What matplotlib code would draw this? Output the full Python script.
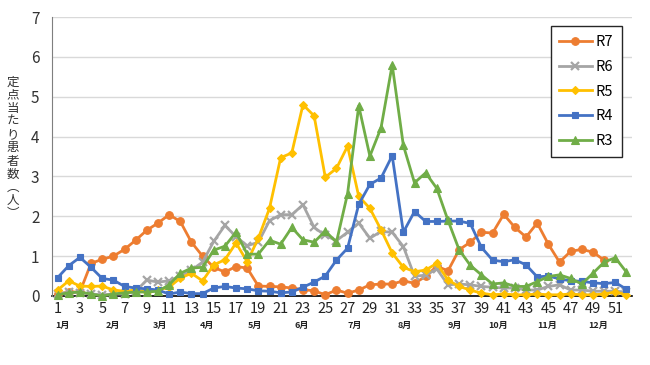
import matplotlib
matplotlib.use("Agg")
import matplotlib.pyplot as plt
import matplotlib.transforms as mtransforms

plt.rcParams['font.family'] = ['Noto Sans CJK JP', 'DejaVu Sans']

weeks = list(range(1, 53))

r7 = [0.05, 0.1, 0.1, 0.82, 0.92, 1.0, 1.17, 1.4, 1.65, 1.83,
      2.04, 1.87, 1.35, 1.0, 0.72, 0.6, 0.74, 0.7, 0.25, 0.24,
      0.23, 0.2, 0.16, 0.13, 0.03, 0.15, 0.07, 0.15, 0.28, 0.3,
      0.3, 0.38, 0.32, 0.49, 0.75, 0.63, 1.16, 1.35, 1.6, 1.58,
      2.05, 1.72, 1.48, 1.83, 1.3, 0.85, 1.12, 1.17, 1.1, 0.9]

r6 = [0.05, 0.1, 0.08, 0.05, 0.03, 0.05, 0.05, 0.12, 0.4, 0.35,
      0.38, 0.5, 0.65, 0.85, 1.37, 1.77, 1.49, 1.26, 1.35, 1.89,
      2.04, 2.04, 2.29, 1.72, 1.52, 1.39, 1.6, 1.83, 1.45, 1.62,
      1.6, 1.24, 0.5, 0.52, 0.68, 0.28, 0.3, 0.28, 0.24, 0.22,
      0.2, 0.2, 0.15, 0.15, 0.24, 0.28, 0.15, 0.15, 0.12, 0.12,
      0.12, 0.1]

r5 = [0.15, 0.38, 0.25, 0.24, 0.25, 0.15, 0.12, 0.15, 0.1, 0.15,
      0.22, 0.45, 0.57, 0.38, 0.78, 0.91, 1.33, 0.86, 1.45, 2.2,
      3.47, 3.59, 4.8, 4.52, 2.98, 3.2, 3.76, 2.5, 2.2, 1.66,
      1.08, 0.72, 0.61, 0.65, 0.82, 0.4, 0.24, 0.15, 0.07, 0.03,
      0.05, 0.03, 0.03, 0.05, 0.03, 0.03, 0.05, 0.03, 0.03, 0.05,
      0.1, 0.03]

r4 = [0.46, 0.76, 0.97, 0.72, 0.44, 0.4, 0.24, 0.2, 0.18, 0.15,
      0.05, 0.1, 0.06, 0.06, 0.2, 0.24, 0.2, 0.18, 0.13, 0.12,
      0.08, 0.1, 0.22, 0.35, 0.5, 0.9, 1.2, 2.3, 2.8, 2.96,
      3.52, 1.6, 2.12, 1.87, 1.87, 1.88, 1.88, 1.82, 1.22, 0.9,
      0.86, 0.91, 0.78, 0.48, 0.5, 0.43, 0.38, 0.37, 0.33, 0.31,
      0.34, 0.17]

r3 = [0.03, 0.08, 0.1, 0.05, 0.0, 0.05, 0.08, 0.1, 0.1, 0.12,
      0.28, 0.57, 0.7, 0.72, 1.15, 1.25, 1.6, 1.05, 1.05, 1.4,
      1.3, 1.72, 1.41, 1.35, 1.63, 1.35, 2.57, 4.77, 3.51, 4.22,
      5.8, 3.78, 2.84, 3.09, 2.7, 1.9, 1.16, 0.77, 0.53, 0.3,
      0.33, 0.24, 0.24, 0.36, 0.49, 0.53, 0.44, 0.3, 0.57, 0.85,
      0.96, 0.6]

series_names = ['R7', 'R6', 'R5', 'R4', 'R3']
series_values = [r7, r6, r5, r4, r3]
colors = ['#ED7D31', '#A5A5A5', '#FFC000', '#4472C4', '#70AD47']
markers = ['o', 'x', 'D', 's', '^']
msizes = [5.5, 6, 4.5, 5, 6]

months = ['1月', '2月', '3月', '4月', '5月', '6月', '7月', '8月', '9月', '10月', '11月', '12月']
month_pos = [1.45, 6.0, 10.2, 14.35, 18.7, 22.9, 27.6, 32.1, 36.6, 40.5, 44.9, 49.5]

ylabel = '定点当たり患者数'
ylabel_chars = list(ylabel) + ['︵', '人', '︶']

fig = plt.figure(figsize=(6.5, 3.65), dpi=100)
ax = fig.add_axes([52/650, 1 - 296/365, 580/650, 279/365])

for name, vals, c, m, ms in zip(series_names, series_values, colors, markers, msizes):
    x = weeks[:len(vals)]
    ax.plot(x, vals, color=c, lw=2.0, marker=m, markersize=ms,
            markeredgewidth=1.6 if m == 'x' else 0.8, markeredgecolor=c,
            markerfacecolor=c, label=name, clip_on=False, zorder=3)

ax.set_xlim(0.5, 52.5)
ax.set_ylim(0, 7)
ax.set_yticks(range(0, 8))
ax.set_yticklabels([str(v) for v in range(0, 8)], fontsize=11, color='#333333')
ax.set_xticks(weeks[::2])
ax.set_xticklabels([str(w) for w in weeks[::2]], fontsize=10.5, color='#222222')
ax.tick_params(axis='both', length=0)
ax.tick_params(axis='x', pad=4)
ax.tick_params(axis='y', pad=9)
ax.grid(axis='y', color='#D9D9D9', lw=1.0, zorder=0)
ax.set_axisbelow(True)
for s in ['top', 'right']:
    ax.spines[s].set_visible(False)
ax.spines['left'].set_color('#7F7F7F')
ax.spines['left'].set_linewidth(0.8)
ax.spines['bottom'].set_color('black')
ax.spines['bottom'].set_linewidth(1.2)
ax.spines['bottom'].set_zorder(2)

trans = mtransforms.blended_transform_factory(ax.transData, ax.transAxes)
for mname, mp in zip(months, month_pos):
    ax.text(mp, -0.104, mname, transform=trans, ha='center', va='center',
            fontsize=6.5, fontweight='bold', color='#222222')

fig.text(13/650, 1 - 148/365, '\n'.join(ylabel_chars), ha='center', va='center',
         fontsize=9, linespacing=1.02, color='#333333')

leg = ax.legend(loc='upper right', bbox_to_anchor=(0.983, 0.968), fontsize=10.5,
                frameon=True, fancybox=False, framealpha=1, edgecolor='#262626',
                handlelength=2.2, labelspacing=0.75, borderpad=0.6,
                handletextpad=0.3, borderaxespad=0)
leg.get_frame().set_linewidth(1.0)

fig.savefig('out.png', dpi=100)
